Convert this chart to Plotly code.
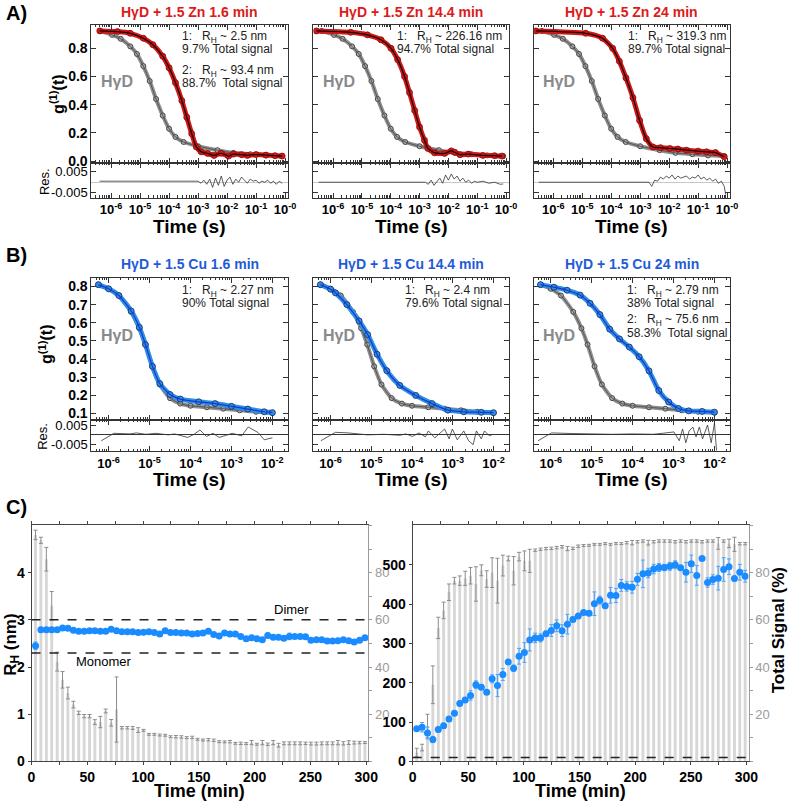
import plotly.graph_objects as go

W, H = 798, 808
FONT = "Liberation Sans, Arial, Helvetica, sans-serif"
AX = "#333333"


def fx(px):
    return px / W


def fy(py):
    return 1 - py / H


# ---------------- DATA ----------------
# Panel A (Zn) : log10(time / s) and g1(t)
a_gray_logt = [-6.39, -5.97, -5.67, -5.34, -5.11, -4.89, -4.67, -4.45, -4.22, -4.0, -3.78, -3.5, -3.0, -2.33, -1.78, -1.2, -0.66, -0.1]
a_gray_g1 = [0.924, 0.896, 0.868, 0.814, 0.76, 0.674, 0.568, 0.44, 0.323, 0.229, 0.171, 0.135, 0.105, 0.077, 0.058, 0.048, 0.04, 0.035]

a1_logt = [-6.39, -5.78, -5.34, -4.89, -4.56, -4.22, -4.0, -3.78, -3.56, -3.39, -3.22, -3.06, -2.89, -2.67, -2.45, -2.2, -1.95, -1.78, -1.5, -1.3, -1.0, -0.66, -0.35, -0.1]
a1_g1 = [0.924, 0.919, 0.907, 0.872, 0.826, 0.744, 0.662, 0.556, 0.428, 0.311, 0.194, 0.10, 0.065, 0.054, 0.04, 0.055, 0.035, 0.049, 0.045, 0.04, 0.046, 0.042, 0.038, 0.035]

a2_logt = [-6.58, -5.39, -4.81, -4.34, -3.99, -3.76, -3.52, -3.35, -3.17, -3.0, -2.83, -2.71, -2.48, -2.13, -1.9, -1.78, -1.6, -1.31, -0.8, -0.4, -0.14]
a2_g1 = [0.924, 0.914, 0.896, 0.861, 0.80, 0.72, 0.60, 0.486, 0.358, 0.241, 0.147, 0.089, 0.058, 0.054, 0.072, 0.062, 0.045, 0.049, 0.04, 0.038, 0.035]

a3_logt = [-6.6, -4.88, -4.30, -3.95, -3.72, -3.49, -3.25, -3.02, -2.79, -2.56, -2.3, -1.98, -1.7, -1.40, -1.0, -0.71, -0.4, -0.1]
a3_g1 = [0.924, 0.907, 0.872, 0.80, 0.709, 0.59, 0.45, 0.288, 0.159, 0.10, 0.095, 0.089, 0.085, 0.077, 0.07, 0.065, 0.06, 0.03]

a1_res_logt = [-6.4, -3.0, -2.9, -2.8, -2.7, -2.6, -2.5, -2.4, -2.3, -2.2, -2.1, -2.0, -1.9, -1.8, -1.7, -1.6, -1.5, -1.4, -1.3, -1.2, -1.1, -1.0, -0.9, -0.8, -0.7, -0.6, -0.5, -0.4, -0.3, -0.2, -0.1]
a1_res = [0.0005, 0.0005, -0.0005, 0.001, -0.001, 0.0015, -0.0025, 0.002, -0.0015, 0.003, -0.002, 0.001, 0.0025, -0.001, 0.0015, 0.0, 0.0025, 0.001, -0.0005, 0.0015, 0.0005, 0.001, -0.0005, 0.0005, 0.0, 0.001, -0.0005, 0.0005, -0.001, 0.0005, -0.0005]
a2_res_logt = [-6.5, -2.8, -2.7, -2.6, -2.5, -2.4, -2.3, -2.2, -2.1, -2.0, -1.9, -1.8, -1.7, -1.6, -1.5, -1.4, -1.3, -1.2, -1.1, -1.0, -0.8, -0.6, -0.4, -0.2, -0.1]
a2_res = [0.0, 0.0, -0.001, 0.001, -0.0015, 0.0005, 0.002, -0.0005, 0.0035, 0.001, 0.004, 0.0015, 0.003, 0.0005, 0.002, 0.0, 0.001, -0.0005, 0.0005, 0.0, 0.0005, -0.0005, 0.0, -0.001, -0.0008]
a3_res_logt = [-6.5, -2.7, -2.6, -2.5, -2.4, -2.3, -2.2, -2.1, -2.0, -1.9, -1.8, -1.7, -1.6, -1.5, -1.4, -1.3, -1.2, -1.1, -1.0, -0.9, -0.8, -0.7, -0.6, -0.5, -0.4, -0.3, -0.2, -0.1, -0.05]
a3_res = [0.0, 0.0, -0.002, 0.001, 0.0005, 0.0025, 0.0015, 0.003, 0.002, 0.0035, 0.0015, 0.003, 0.002, 0.0025, 0.003, 0.0015, 0.0025, 0.002, 0.0035, 0.0015, 0.0025, 0.001, 0.002, 0.0005, 0.0015, -0.0005, 0.0005, -0.002, -0.006]

# Panel B (Cu)
b_gray_logt = [-6.25, -6.0, -5.75, -5.45, -5.25, -5.1, -4.93, -4.75, -4.5, -4.25, -4.0, -3.6, -3.2, -2.8, -2.4, -2.0]
b_gray_g1 = [0.81, 0.787, 0.75, 0.66, 0.57, 0.48, 0.36, 0.26, 0.185, 0.155, 0.143, 0.135, 0.127, 0.118, 0.11, 0.105]

b1_logt = [-6.25, -6.0, -5.75, -5.45, -5.25, -5.1, -4.93, -4.75, -4.5, -4.25, -3.8, -3.4, -3.0, -2.6, -2.2, -2.0]
b1_g1 = [0.81, 0.787, 0.75, 0.665, 0.575, 0.48, 0.36, 0.265, 0.205, 0.18, 0.165, 0.155, 0.14, 0.125, 0.11, 0.105]
b2_logt = [-6.25, -6.0, -5.88, -5.6, -5.3, -5.09, -4.86, -4.62, -4.30, -3.91, -3.51, -3.12, -2.73, -2.3, -2.0]
b2_g1 = [0.81, 0.785, 0.765, 0.70, 0.61, 0.535, 0.427, 0.336, 0.255, 0.20, 0.155, 0.119, 0.11, 0.107, 0.105]
b3_logt = [-6.25, -5.92, -5.60, -5.28, -5.04, -4.80, -4.56, -4.32, -4.08, -3.84, -3.60, -3.36, -3.12, -2.88, -2.63, -2.3, -2.0]
b3_g1 = [0.81, 0.796, 0.779, 0.752, 0.707, 0.645, 0.565, 0.511, 0.466, 0.413, 0.335, 0.227, 0.164, 0.128, 0.115, 0.112, 0.108]

b1_res_logt = [-6.18, -5.87, -5.48, -5.32, -5.09, -4.85, -4.54, -4.39, -4.07, -3.92, -3.77, -3.61, -3.45, -3.30, -3.14, -2.98, -2.75, -2.59, -2.35, -2.20, -2.0]
b1_res = [-0.003, 0.0008, 0.0005, 0.001, 0.0003, 0.0008, 0.0, 0.0005, -0.0013, 0.0002, 0.0025, -0.0008, 0.0008, -0.0013, -0.0003, 0.0008, -0.0005, 0.004, 0.0012, -0.0025, -0.0015]
b2_res_logt = [-6.24, -5.88, -5.57, -5.09, -4.70, -4.30, -4.15, -3.99, -3.83, -3.67, -3.60, -3.44, -3.28, -3.20, -3.09, -3.01, -2.89, -2.73, -2.61, -2.50, -2.42, -2.30, -2.22, -2.10, -2.02]
b2_res = [-0.003, 0.0013, 0.001, 0.0, 0.0003, -0.0002, 0.0005, -0.0008, 0.001, -0.001, 0.002, -0.0015, 0.0015, 0.003, -0.002, 0.003, -0.0025, 0.002, -0.003, -0.005, 0.002, -0.002, 0.002, -0.0005, 0.0003]
b3_res_logt = [-6.31, -5.98, -5.5, -5.0, -4.5, -4.0, -3.5, -3.27, -3.11, -2.99, -2.86, -2.78, -2.70, -2.62, -2.53, -2.45, -2.37, -2.29, -2.17, -2.08, -2.0, -1.95]
b3_res = [-0.003, 0.001, 0.0007, 0.0005, 0.0003, 0.0005, 0.0003, 0.0008, 0.001, 0.0015, -0.003, 0.003, -0.004, 0.002, 0.004, -0.001, 0.004, -0.002, 0.005, -0.004, 0.006, -0.008]

a_titles = ["HγD + 1.5 Zn 1.6 min", "HγD + 1.5 Zn 14.4 min", "HγD + 1.5 Zn 24 min"]
b_titles = ["HγD + 1.5 Cu 1.6 min", "HγD + 1.5 Cu 14.4 min", "HγD + 1.5 Cu 24 min"]
a_fit_text = [
    ["1:   R<sub>H</sub> ~ 2.5 nm", "9.7% Total signal", "2:   R<sub>H</sub> ~ 93.4 nm", "88.7%  Total signal"],
    ["1:   R<sub>H</sub> ~ 226.16 nm", "94.7% Total signal"],
    ["1:   R<sub>H</sub> ~ 319.3 nm", "89.7% Total signal"],
]
b_fit_text = [
    ["1:   R<sub>H</sub> ~ 2.27 nm", "90% Total signal"],
    ["1:   R<sub>H</sub> ~ 2.4 nm", "79.6% Total signal"],
    ["1:   R<sub>H</sub> ~ 2.79 nm", "38% Total signal", "2:   R<sub>H</sub> ~ 75.6 nm", "58.3%  Total signal"],
]

a_xtickvals = [1e-6, 1e-5, 1e-4, 1e-3, 1e-2, 1e-1, 1e0]
a_xticktext = ["10<sup>-6</sup>", "10<sup>-5</sup>", "10<sup>-4</sup>", "10<sup>-3</sup>", "10<sup>-2</sup>", "10<sup>-1</sup>", "10<sup>-0</sup>"]
b_xtickvals = [1e-6, 1e-5, 1e-4, 1e-3, 1e-2]
b_xticktext = ["10<sup>-6</sup>", "10<sup>-5</sup>", "10<sup>-4</sup>", "10<sup>-3</sup>", "10<sup>-2</sup>"]
a_ytickvals = [0.0, 0.2, 0.4, 0.6, 0.8]
a_yticktext = ["0.0", "0.2", "0.4", "0.6", "0.8"]
b_ytickvals = [0.1, 0.2, 0.3, 0.4, 0.5, 0.6, 0.7, 0.8]
b_yticktext = ["0.1", "0.2", "0.3", "0.4", "0.5", "0.6", "0.7", "0.8"]
res_tickvals = [-0.005, 0.005]
res_ticktext = ["-0.005", "0.005"]

# Panel C
t_min = [3.6, 8.4, 13.3, 18.1, 23.0, 27.8, 32.6, 37.5, 42.3, 47.2,
         52.0, 56.8, 61.7, 66.5, 71.4, 76.2, 81.0, 85.9, 90.7, 95.6,
         100.4, 105.2, 110.1, 114.9, 119.8, 124.6, 129.4, 134.3, 139.1, 144.0,
         148.8, 153.6, 158.5, 163.3, 168.2, 173.0, 177.8, 182.7, 187.5, 192.4,
         197.2, 202.0, 206.9, 211.7, 216.6, 221.4, 226.2, 231.1, 235.9, 240.8,
         245.6, 250.4, 255.3, 260.1, 265.0, 269.8, 274.6, 279.5, 284.3, 289.2,
         294.0, 298.8]
rh_small = [2.45, 2.79, 2.79, 2.79, 2.79, 2.83, 2.82, 2.78, 2.76, 2.76,
            2.77, 2.77, 2.76, 2.76, 2.80, 2.77, 2.75, 2.75, 2.75, 2.73,
            2.74, 2.75, 2.73, 2.70, 2.77, 2.73, 2.73, 2.72, 2.72, 2.70,
            2.71, 2.72, 2.76, 2.69, 2.66, 2.72, 2.70, 2.70, 2.65, 2.60,
            2.62, 2.60, 2.58, 2.67, 2.63, 2.63, 2.61, 2.65, 2.65, 2.65,
            2.64, 2.57, 2.58, 2.58, 2.55, 2.55, 2.56, 2.58, 2.56, 2.53,
            2.57, 2.62]
rh_small_err = [0.08, 0.02, 0.02, 0.03, 0.03, 0.02, 0.02, 0.04, 0.04, 0.04,
                0.03, 0.02, 0.04, 0.04, 0.03, 0.03, 0.02, 0.02, 0.02, 0.02,
                0.03, 0.02, 0.02, 0.02, 0.02, 0.03, 0.02, 0.02, 0.02, 0.02,
                0.02, 0.02, 0.04, 0.02, 0.02, 0.03, 0.03, 0.02, 0.02, 0.03,
                0.03, 0.02, 0.02, 0.05, 0.02, 0.02, 0.02, 0.07, 0.02, 0.02,
                0.02, 0.02, 0.02, 0.02, 0.03, 0.02, 0.03, 0.03, 0.02, 0.02,
                0.03, 0.02]
sig_small = [96, 93.7, 85.7, 66, 42.3, 34.6, 29.0, 24.1, 20.6, 19.2,
             19.2, 16.7, 16.7, 21.4, 16.4, 22, 14.3, 14.3, 14.2, 13.3,
             13.2, 11.5, 11.5, 11.2, 11.1, 10.5, 10.5, 10.4, 10.1, 10.2,
             9.4, 9.1, 9.2, 9.0, 8.4, 8.3, 8.4, 7.7, 7.7, 7.6,
             8.0, 7.3, 8.0, 7.3, 8.0, 6.9, 7.7, 7.7, 7.7, 7.7,
             7.7, 7.6, 7.6, 7.7, 7.7, 7.7, 8.0, 7.7, 8.0, 8.0,
             8.0, 8.0]
sig_small_err = [2, 1.3, 5, 6, 4, 3.5, 2.5, 1.4, 0.7, 0.7,
                 0.7, 1.0, 2.4, 0.8, 1.4, 13.8, 0.5, 0.5, 0.6, 1.0,
                 0.4, 0.4, 0.4, 0.4, 0.4, 0.4, 0.5, 0.5, 0.4, 0.5,
                 0.4, 0.4, 0.5, 0.5, 0.4, 0.4, 0.5, 0.4, 0.5, 0.4,
                 0.9, 0.4, 0.9, 0.5, 0.9, 0.8, 0.6, 0.6, 0.6, 0.6,
                 0.5, 0.6, 0.6, 0.6, 0.6, 0.6, 0.9, 0.7, 0.8, 0.6,
                 0.5, 0.4]
rh_large = [83, 87, 72.5, 56, 81, 91, 108, 122.5, 147.5, 156,
            168, 195, 189, 176, 210, 193, 221, 253, 237, 267.5,
            277, 309, 314, 314, 325, 333, 345, 332.5, 349, 361,
            370, 379, 377, 401, 410, 396, 422.5, 422, 447.5, 445,
            443, 463, 477, 479, 489, 493, 493, 496, 500, 492.5,
            481, 502.5, 473, 516, 455, 462.5, 466, 488, 495, 465,
            481, 471]
rh_large_err = [5, 12, 15, 8, 6, 6, 6, 6, 6, 6,
                12, 10, 6, 5, 10, 28, 15, 6, 8, 20,
                25, 28, 12, 10, 6, 15, 15, 15, 25, 6,
                5, 5, 5, 30, 10, 5, 20, 18, 15, 12,
                15, 15, 35, 12, 12, 10, 8, 10, 10, 5,
                25, 22, 25, 5, 12, 12, 30, 30, 20, 6,
                20, 15]
sig_large = [3.8, 5.9, 15, 32.5, 56.6, 64, 71.7, 76.6, 76.6, 77.6,
             78.7, 75.2, 81, 77.3, 80, 76.6, 83, 86, 80.8, 86.8,
             85, 85, 89.5, 89.9, 90.2, 90.3, 90.6, 91, 90.2, 90.3,
             91.2, 91.5, 91.6, 92, 92, 92.3, 92, 92.4, 92.3, 92.7,
             92.7, 93.1, 93.4, 92.7, 93.1, 93.4, 93.4, 93.4, 93.1, 93.4,
             93.1, 93.4, 93.4, 93.1, 93.4, 93.4, 92.4, 93.4, 92.4, 92,
             92.3, 92.3]
sig_large_err = [1.8, 1.4, 5, 8, 4.5, 3.5, 3.5, 1.4, 2, 3,
                 3.5, 7.3, 2.3, 3.5, 6.3, 9.5, 4.4, 1, 6, 1.8,
                 4.2, 4.9, 0.5, 0.5, 0.5, 0.5, 0.5, 0.5, 0.9, 0.5,
                 0.5, 0.4, 0.4, 0.4, 0.4, 0.4, 0.4, 0.4, 0.4, 0.5,
                 0.9, 0.5, 0.5, 1.0, 0.5, 0.5, 0.5, 0.5, 0.5, 0.5,
                 0.5, 0.5, 0.5, 0.5, 0.5, 0.5, 2.5, 0.5, 1.8, 3,
                 0.5, 0.5]
dimer_rh = 3.0
monomer_rh = 2.3
aggregate_baseline_rh = 10
c_xtickvals = [0, 50, 100, 150, 200, 250, 300]
c_small_ytickvals = [0, 1, 2, 3, 4]
c_large_ytickvals = [0, 100, 200, 300, 400, 500]
c_sig_tickvals = [20, 40, 60, 80]

# ---------------- FIGURE ----------------
RED = "#dd1a1a"
BLUE_T = "#1f5bd8"
GRAYTXT = "#8a8a8a"

fig = go.Figure()
layout = dict(
    width=W, height=H, margin=dict(l=0, r=0, t=0, b=0),
    paper_bgcolor="white", plot_bgcolor="rgba(0,0,0,0)", showlegend=False,
    font=dict(family=FONT, color="black"),
    annotations=[], shapes=[],
)


def axname(kind, n):
    return kind + ("axis" if n == 1 else f"axis{n}")


def ref(kind, n):
    return kind if n == 1 else f"{kind}{n}"


def bold_font(size, color="black"):
    return dict(family=FONT, size=size, color=color, weight="bold")


def log_xaxis(n, dom, rng, show_labels, tickvals, ticktext):
    layout[axname("x", n)] = dict(
        domain=[fx(dom[0]), fx(dom[1])], type="log", range=rng, anchor=ref("y", n),
        showline=True, linecolor=AX, linewidth=1, mirror="allticks",
        ticks="inside", ticklen=5, tickcolor=AX, tickmode="array",
        tickvals=tickvals, ticktext=ticktext, showticklabels=show_labels,
        tickfont=bold_font(13), showgrid=False, zeroline=False,
        minor=dict(ticks="inside", ticklen=2.5, tickcolor=AX, dtick="D1", tickmode="linear", showgrid=False),
    )


def lin_yaxis(n, dom, rng, tickvals, ticktext, show_labels, font, zeroline=False, zcolor=AX):
    layout[axname("y", n)] = dict(
        domain=[fy(dom[1]), fy(dom[0])], range=rng, anchor=ref("x", n),
        showline=True, linecolor=AX, linewidth=1, mirror="allticks",
        ticks="inside", ticklen=5, tickcolor=AX, tickmode="array",
        tickvals=tickvals, ticktext=ticktext, showticklabels=show_labels,
        tickfont=font, showgrid=False, zeroline=zeroline, zerolinecolor=zcolor, zerolinewidth=1,
    )


def ann(text, x, y, size, color="black", bold=False, xanchor="center", angle=0):
    layout["annotations"].append(dict(
        text=(f"<b>{text}</b>" if bold else text), x=fx(x), y=fy(y), xref="paper", yref="paper",
        showarrow=False, font=dict(family=FONT, size=size, color=color),
        xanchor=xanchor, yanchor="middle", textangle=angle, borderpad=0))


box_x = [(89, 289), (315, 514), (539, 739)]
A_main, A_res = (23, 163), (163, 198)
B_main, B_res = (279, 423), (423, 455)
A_rng = [-6.68, 0.1]
B_rng = [-6.42, -1.62]


def tx(logs):
    return [10 ** v for v in logs]


a_sets = [(a1_logt, a1_g1, a1_res_logt, a1_res), (a2_logt, a2_g1, a2_res_logt, a2_res), (a3_logt, a3_g1, a3_res_logt, a3_res)]
b_sets = [(b1_logt, b1_g1, b1_res_logt, b1_res), (b2_logt, b2_g1, b2_res_logt, b2_res), (b3_logt, b3_g1, b3_res_logt, b3_res)]

for panel, (sets, mainY, resY, rng, xtv, xtt, ytv, ytt, yr, rr, gl, gg, col_line, col_mk, col_edge, zc) in enumerate([
    (a_sets, A_main, A_res, A_rng, a_xtickvals, a_xticktext, a_ytickvals, a_yticktext, [-0.014, 0.968], [-0.0074, 0.0093],
     a_gray_logt, a_gray_g1, "#1a0000", "#d01818", "#8a0a0a", "#c8c8c8"),
    (b_sets, B_main, B_res, B_rng, b_xtickvals, b_xticktext, b_ytickvals, b_yticktext, [0.066, 0.849], [-0.0084, 0.0077],
     b_gray_logt, b_gray_g1, "#1438d8", "#2f8fe0", "#0c2a70", AX),
]):
    base = 1 + panel * 6
    for i in range(3):
        nm = base + i
        nr = base + 3 + i
        log_xaxis(nm, box_x[i], rng, False, xtv, xtt)
        log_xaxis(nr, box_x[i], rng, True, xtv, xtt)
        lin_yaxis(nm, mainY, yr, ytv, ytt, i == 0, bold_font(14))
        lin_yaxis(nr, resY, rr, res_tickvals, res_ticktext, i == 0,
                  dict(family=FONT, size=13, color="black"), zeroline=True, zcolor=zc)
        lt, gv, rlt, rv = sets[i]
        # HyD reference curve
        fig.add_trace(go.Scatter(x=tx(gl), y=gg, mode="lines+markers", xaxis=ref("x", nm), yaxis=ref("y", nm),
                                 line=dict(color="#8f8f8f", width=4, shape="spline", smoothing=0.6),
                                 marker=dict(size=5, color="#a5a5a5", line=dict(color="#4a4a4a", width=1)), hoverinfo="skip"))
        fig.add_trace(go.Scatter(x=tx(gl), y=gg, mode="lines", xaxis=ref("x", nm), yaxis=ref("y", nm),
                                 line=dict(color="#555555", width=1, shape="spline", smoothing=0.6), hoverinfo="skip"))
        # sample curve
        fig.add_trace(go.Scatter(x=tx(lt), y=gv, mode="lines+markers", xaxis=ref("x", nm), yaxis=ref("y", nm),
                                 line=dict(color=col_mk, width=5, shape="spline", smoothing=0.6),
                                 marker=dict(size=6, color=col_mk, line=dict(color=col_edge, width=0.8)), hoverinfo="skip"))
        fig.add_trace(go.Scatter(x=tx(lt), y=gv, mode="lines", xaxis=ref("x", nm), yaxis=ref("y", nm),
                                 line=dict(color=col_line, width=1.2, shape="spline", smoothing=0.6), hoverinfo="skip"))
        # residuals
        fig.add_trace(go.Scatter(x=tx(rlt), y=rv, mode="lines", xaxis=ref("x", nr), yaxis=ref("y", nr),
                                 line=dict(color="#333333", width=0.8), hoverinfo="skip"))

# ----- text for A and B -----
ann("A)", 13, 11, 20, bold=True)
ann("B)", 13, 256, 20, bold=True)
ann("C)", 13, 511, 20, bold=True)
for i in range(3):
    cx = (box_x[i][0] + box_x[i][1]) / 2
    ann(a_titles[i], cx, 10, 14, color=RED, bold=True)
    ann(b_titles[i], cx, 265, 14, color=BLUE_T, bold=True)
    ann("Time (s)", cx, 227, 19, bold=True)
    ann("Time (s)", cx, 483, 19, bold=True)
    ann("HγD", box_x[i][0] + 26, 80, 16, color=GRAYTXT, bold=True)
    ann("HγD", box_x[i][0] + 26, 338, 16, color=GRAYTXT, bold=True)
a_text_x = [180, 399, 634]
b_text_x = [180, 407, 633]
a_text_y = [35, 48, 70, 82]
b_text_y = [293, 305, 322, 335]
for i in range(3):
    for j, t in enumerate(a_fit_text[i]):
        ann(t, a_text_x[i], a_text_y[j], 12, color="#222222", xanchor="left")
    for j, t in enumerate(b_fit_text[i]):
        ann(t, b_text_x[i], b_text_y[j], 12, color="#222222", xanchor="left")
ann("g<sup>(1)</sup>(t)", 54, 94, 16, bold=True, angle=-90)
ann("g<sup>(1)</sup>(t)", 42, 347, 16, bold=True, angle=-90)
ann("Res.", 41, 182, 13, angle=-90)
ann("Res.", 39, 440, 13, angle=-90)

# ---------------- PANEL C ----------------
C_Y = (530, 769)
C_rng = [0, 302]
GRAYAX = "#9a9a9a"
for (xn, ybase, yov, dom, rh, rh_e, sig, sig_e, yr, ytv) in [
    (13, 13, 14, (28, 371), rh_small, rh_small_err, sig_small, sig_small_err, [0, 5.0], c_small_ytickvals),
    (14, 15, 16, (416, 758), rh_large, rh_large_err, sig_large, sig_large_err, [0, 600], c_large_ytickvals),
]:
    layout[axname("x", xn)] = dict(
        domain=[fx(dom[0]), fx(dom[1])], range=C_rng, anchor=ref("y", ybase),
        showline=True, linecolor="#444444", linewidth=1, mirror="allticks",
        ticks="outside", ticklen=3, tickcolor="#444444", tickmode="array", tickvals=c_xtickvals,
        tickfont=bold_font(14), showgrid=False, zeroline=False,
        minor=dict(ticks="outside", ticklen=3, tickcolor="#444444", dtick=25, tick0=0, showgrid=False),
    )
    layout[axname("y", ybase)] = dict(
        domain=[fy(C_Y[1]), fy(C_Y[0])], range=[0, 100], anchor=ref("x", xn), side="right",
        showline=True, linecolor=GRAYAX, linewidth=1, ticks="outside", ticklen=3, tickcolor=GRAYAX,
        tickmode="array", tickvals=c_sig_tickvals, tickfont=dict(family=FONT, size=13, color=GRAYAX),
        showgrid=False, zeroline=False,
        minor=dict(ticks="outside", ticklen=3, tickcolor=GRAYAX, dtick=10, tick0=0, showgrid=False),
    )
    layout[axname("y", yov)] = dict(
        overlaying=ref("y", ybase), range=yr, anchor=ref("x", xn), side="left",
        showline=True, linecolor="#444444", linewidth=1, ticks="outside", ticklen=3, tickcolor="#444444",
        tickmode="array", tickvals=ytv, tickfont=bold_font(14), showgrid=False, zeroline=False,
    )
    fig.add_trace(go.Bar(x=t_min, y=sig, width=2.6, xaxis=ref("x", xn), yaxis=ref("y", ybase),
                         marker=dict(color="#d7d7d7", line=dict(width=0)),
                         error_y=dict(type="data", array=sig_e, color="#8c8c8c", thickness=1, width=2),
                         hoverinfo="skip"))
    fig.add_trace(go.Scatter(x=t_min, y=rh, mode="markers", xaxis=ref("x", xn), yaxis=ref("y", yov),
                             marker=dict(size=7, color="#1a8cff"),
                             error_y=dict(type="data", array=rh_e, color="#4aa3ff", thickness=1, width=2),
                             hoverinfo="skip"))

for yv, yref, xref in [(dimer_rh, "y14", "x13"), (monomer_rh, "y14", "x13"), (aggregate_baseline_rh, "y16", "x14")]:
    layout["shapes"].append(dict(type="line", xref=f"{xref} domain", yref=yref, x0=0, x1=1, y0=yv, y1=yv,
                                 line=dict(color="#222222", width=1.5, dash="dash"), layer="above"))

ann("Dimer", 293, 615, 13)
ann("Monomer", 102, 668, 13)
ann("Time (min)", 199, 799, 18, bold=True)
ann("Time (min)", 587, 799, 18, bold=True)
ann("R<sub>H</sub> (nm)", 8, 651, 17, bold=True, angle=-90)
ann("Total Signal (%)", 788, 636, 17, bold=True, angle=-90)

fig.update_layout(**layout)
fig.write_html(
    "out.html",
    config={"displayModeBar": False},
    post_script="document.body.style.margin='0';document.body.style.padding='0';document.body.style.overflow='hidden';",
)
